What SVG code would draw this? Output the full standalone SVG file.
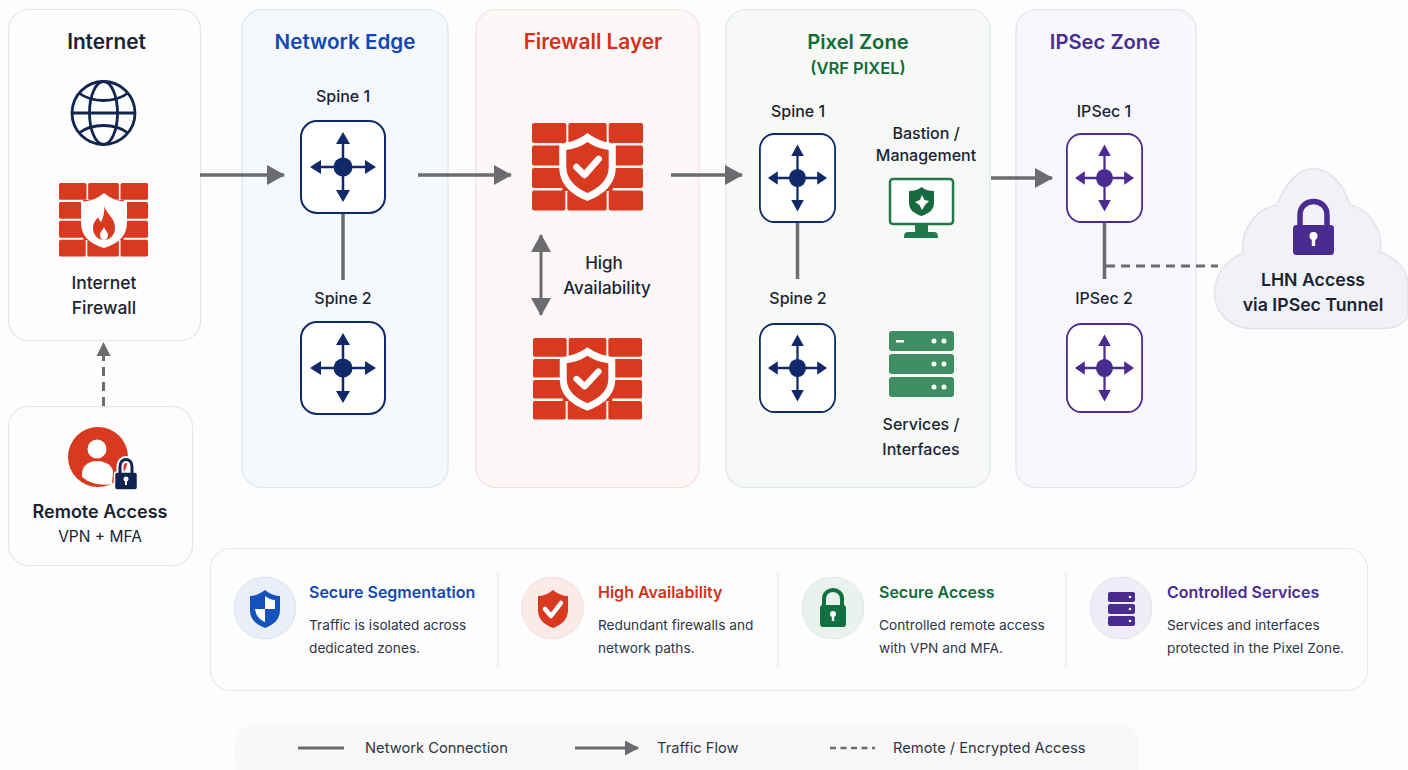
<svg xmlns="http://www.w3.org/2000/svg" width="1408" height="770" viewBox="0 0 1408 770">
<style>
text{font-family:"Inter","Noto Sans","Liberation Sans",sans-serif;fill:#1b2433;text-anchor:middle}
.panel{stroke-width:1.2}
.title{font-size:20.6px;font-weight:600}
.lab{font-size:16px;font-weight:500}
.big{font-size:17.7px;font-weight:600}
.bt{font-size:16px;font-weight:600;text-anchor:start}
.bd{font-size:13.7px;font-weight:400;text-anchor:start;fill:#2d3644}
.lg{font-size:14.7px;font-weight:400;text-anchor:start;fill:#2d3644}
.conn{fill:none;stroke:#6a6c70;stroke-width:3.5}
.dash{stroke-dasharray:9 6;stroke-width:3}
</style>
<defs>
<marker id="ah" markerUnits="userSpaceOnUse" markerWidth="18" markerHeight="20" refX="17" refY="10" orient="auto-start-reverse"><path d="M0 0L18 10L0 20Z" fill="#6a6c70"/></marker>
<marker id="ahs" markerUnits="userSpaceOnUse" markerWidth="14" markerHeight="15" refX="13" refY="7.500" orient="auto"><path d="M0 0L14 7.500L0 15Z" fill="#6a6c70"/></marker>
<symbol id="router" viewBox="0 0 86 94" preserveAspectRatio="none">
<rect x="1" y="1" width="84" height="92" rx="16" fill="#fff" stroke="currentColor" stroke-width="2"/>
<path d="M43 18V76M14 47H72" stroke="currentColor" stroke-width="2.500" fill="none"/>
<path d="M43 12L50 24H36ZM43 82L50 70H36ZM10 47L21 40V54ZM76 47L65 40V54Z" fill="currentColor"/>
<circle cx="43" cy="47" r="9.500" fill="currentColor"/>
</symbol>
<symbol id="bricks" viewBox="0 0 110 88" preserveAspectRatio="none">
<g fill="#d8391f">
<rect x="0" y="0" width="34" height="20" rx="2"/><rect x="36" y="0" width="38" height="20" rx="2"/><rect x="76" y="0" width="34" height="20" rx="2"/>
<rect x="0" y="22.500" width="34" height="20" rx="2"/><rect x="76" y="22.500" width="34" height="20" rx="2"/>
<rect x="0" y="45" width="34" height="20" rx="2"/><rect x="76" y="45" width="34" height="20" rx="2"/>
<rect x="0" y="67.500" width="33" height="20" rx="2"/><rect x="35" y="67.500" width="39" height="20" rx="2"/><rect x="76" y="67.500" width="34" height="20" rx="2"/>
<rect x="30" y="20" width="50" height="48"/>
</g>
</symbol>
<symbol id="fwcheck" viewBox="0 0 110 88" preserveAspectRatio="none">
<use href="#bricks" width="110" height="88"/>
<path d="M55 10C64 17 74 20 83 21V44C83 62 70 72 55 78C40 72 27 62 27 44V21C36 20 46 17 55 10Z" fill="#fff"/>
<path d="M55 19C62 24 69 26 76 27V44C76 57 66 65 55 70C44 65 34 57 34 44V27C41 26 48 24 55 19Z" fill="#d8391f"/>
<path d="M44 44L52 52L66 36" fill="none" stroke="#fff" stroke-width="6.500" stroke-linecap="round" stroke-linejoin="round"/>
</symbol>
</defs>
<rect width="1408" height="770" fill="#fdfdfe"/>

<g id="internet">
<rect class="panel" x="8.500" y="9.500" width="192" height="331" rx="20" fill="#fdfdfe" stroke="#e3e5e9"/>
<text class="title" x="106.500" y="49" style="font-size:20.800px">Internet</text>
<g fill="none" stroke="#10244f" stroke-width="2.800">
<circle cx="103.500" cy="113" r="31.500"/>
<ellipse cx="103.500" cy="113" rx="14" ry="31.500"/>
<path d="M72 113H135M79 93C92 103 115 103 128 93M79 133C92 123 115 123 128 133"/>
</g>
<use href="#bricks" x="59" y="183" width="89" height="74"/>
<path d="M104 193C111 199 118 201 127 202V222C127 238 116 244 104 248C92 244 81 238 81 222V202C90 201 97 199 104 193Z" fill="#fff"/>
<path d="M104 206C106 213 115 218 115 228C115 235 110 240 104 240C98 240 93 235 93 228C93 223 96 220 98 217C99 220 100 221 101 222C103 218 105 212 104 206Z" fill="#d8391f"/>
<path d="M104 227C105 230 108 232 108 235C108 238 106 240 104 240C102 240 100 238 100 235C100 232 103 230 104 227Z" fill="#fff"/>
<text x="104" y="289" style="font-size:17.500px;font-weight:500">Internet</text>
<text x="104" y="314" style="font-size:17.500px;font-weight:500">Firewall</text>
</g>

<g id="remote-access">
<rect class="panel" x="8.500" y="406.500" width="184" height="159" rx="20" fill="#fdfdfe" stroke="#e3e5e9"/>
<circle cx="98" cy="457" r="30" fill="#d8391f"/>
<circle cx="97" cy="449" r="9.500" fill="#fff"/>
<path d="M82 477C81 466 88 461 97 461C106 461 113 466 113 472L112 484C102 486 90 484 82 477Z" fill="#fff"/>
<path d="M120 474V467C120 457 132 457 132 467V474" fill="none" stroke="#fff" stroke-width="7"/>
<rect x="114.500" y="472" width="23" height="18" rx="2.500" fill="#0f2350" stroke="#fff" stroke-width="1.500"/>
<path d="M120 474V467C120 457 132 457 132 467V474" fill="none" stroke="#0f2350" stroke-width="3"/>
<circle cx="126" cy="479" r="2.500" fill="#fff"/><rect x="125" y="479" width="2" height="6" fill="#fff"/>
<text class="big" x="100" y="518" style="font-size:18px">Remote Access</text>
<text x="100" y="542" style="font-size:15.500px;font-weight:400">VPN + MFA</text>
</g>

<g id="network-edge">
<rect class="panel" x="242" y="9.500" width="206" height="478" rx="20" fill="#f5f8fd" stroke="#dde5f1"/>
<text class="title" x="345" y="49" style="fill:#1248b4">Network Edge</text>
<text class="lab" x="343" y="102">Spine 1</text>
<use href="#router" x="300" y="120" width="86" height="94" style="color:#10296b"/>
<text class="lab" x="343" y="304">Spine 2</text>
<use href="#router" x="300" y="321" width="86" height="94" style="color:#10296b"/>
</g>

<g id="firewall-layer">
<rect class="panel" x="476" y="9.500" width="223" height="478" rx="20" fill="#fdf8f7" stroke="#f5dfdc"/>
<text class="title" x="593" y="49" style="fill:#d5301a;font-size:20.800px">Firewall Layer</text>
<use href="#fwcheck" x="532" y="123" width="111" height="88"/>
<text x="604" y="269" style="font-size:17px;font-weight:500">High</text>
<text x="607" y="294" style="font-size:17px;font-weight:500">Availability</text>
<use href="#fwcheck" x="533" y="338" width="109" height="82"/>
</g>

<g id="pixel-zone">
<rect class="panel" x="726" y="9.500" width="264" height="478" rx="20" fill="#f6f9f6" stroke="#dfe9e1"/>
<text class="title" x="858" y="49" style="fill:#0f6b38;font-size:20.200px">Pixel Zone</text>
<text x="858" y="74" style="fill:#0f6b38;font-size:16.500px;font-weight:600">(VRF PIXEL)</text>
<text class="lab" x="798" y="117">Spine 1</text>
<use href="#router" x="759" y="133" width="77" height="90" style="color:#10296b"/>
<text class="lab" x="798" y="304">Spine 2</text>
<use href="#router" x="759" y="323" width="77" height="90" style="color:#10296b"/>
</g>
<g id="bastion">
<text class="lab" x="926" y="139">Bastion /</text>
<text class="lab" x="926" y="161">Management</text>
<rect x="890" y="179" width="63" height="45" rx="3" fill="#fff" stroke="#20794a" stroke-width="2.500"/>
<path d="M915 224H928V232H934C937 232 938 234 938 238H904C904 234 905 232 908 232H915Z" fill="#20794a"/>
<path d="M921.500 187C925 190 930 191 934 191V203C934 210 928 214 921.500 216C915 214 909 210 909 203V191C913 191 918 190 921.500 187Z" fill="#17693f"/>
<path d="M922 195L924.500 200L929 201L925 205L922 210L919.500 205L915 202L920 200Z" fill="#fff"/>
</g>
<g id="services">
<g fill="#3f8d62">
<rect x="889" y="331" width="65" height="20" rx="3"/><rect x="889" y="354" width="65" height="20" rx="3"/><rect x="889" y="377" width="65" height="20" rx="3"/>
</g>
<g fill="#fff">
<rect x="896" y="340" width="8" height="2.500"/>
<circle cx="934" cy="341" r="2.500"/><circle cx="944" cy="341" r="2.500"/><circle cx="934" cy="364" r="2.500"/><circle cx="944" cy="364" r="2.500"/><circle cx="934" cy="387" r="2.500"/><circle cx="944" cy="387" r="2.500"/>
</g>
<text class="lab" x="921" y="430">Services /</text>
<text class="lab" x="921" y="455">Interfaces</text>
</g>

<g id="ipsec-zone">
<rect class="panel" x="1016" y="9.500" width="180" height="478" rx="20" fill="#f8f8fc" stroke="#e3e2ee"/>
<text class="title" x="1105" y="49" style="fill:#4a2c91;font-size:20.200px">IPSec Zone</text>
<text class="lab" x="1104" y="117">IPSec 1</text>
<use href="#router" x="1066" y="133" width="77" height="90" style="color:#4a2c91"/>
<text class="lab" x="1104" y="304">IPSec 2</text>
<use href="#router" x="1066" y="323" width="77" height="90" style="color:#4a2c91"/>
</g>

<g id="lhn-access">
<path d="M1252 328.500C1230 328.500 1214.500 312 1214.500 293C1214.500 275 1226 260 1243 253C1240 232 1255 208 1277 205C1285 184 1298 168.500 1313 168.500C1330 168.500 1343 184 1350 205C1368 208 1384 230 1380 252C1396 258 1408 270 1408 285V316C1404 324 1394 328.500 1384 328.500Z" fill="#f0f2f7" stroke="#e0e4ea" stroke-width="1.500"/>
<path d="M1300 228V215C1300 197 1327 197 1327 215V228" fill="none" stroke="#4a2c91" stroke-width="5.500"/>
<rect x="1293" y="225" width="41" height="30" rx="3.500" fill="#4a2c91"/>
<circle cx="1313.500" cy="236" r="4" fill="#fff"/><rect x="1311.800" y="237" width="3.400" height="9" fill="#fff"/>
<text class="big" x="1313" y="286">LHN Access</text>
<text class="big" x="1313" y="311">via IPSec Tunnel</text>
</g>

<g id="connectors">
<path class="conn" d="M200 175H284" marker-end="url(#ah)"/>
<path class="conn" d="M418 175H511" marker-end="url(#ah)"/>
<path class="conn" d="M671 175H742" marker-end="url(#ah)"/>
<path class="conn" d="M991 178H1052" marker-end="url(#ah)"/>
<path class="conn" d="M343 214V280"/>
<path class="conn" d="M797.500 223V279"/>
<path class="conn" d="M1104.500 223V279"/>
<path class="conn dash" d="M103.500 406V350"/>
<path d="M103.500 342L110.500 356H96.500Z" fill="#6a6c70"/>
<path class="conn dash" d="M1106 266H1218"/>
<path class="conn" d="M541 235V315" marker-start="url(#ah)" marker-end="url(#ah)" style="stroke-width:3"/>
</g>

<g id="benefits">
<rect class="panel" x="210.500" y="548.500" width="1157" height="142" rx="20" fill="#fdfdfe" stroke="#e6e8ec"/>
<path d="M498 572V668M778 572V668M1066 572V668" stroke="#eceef1" stroke-width="1.500" fill="none"/>
</g>
<g id="benefit-segmentation">
<circle cx="265" cy="608" r="31" fill="#e9eef8" stroke="#dde5f2"/>
<path d="M265 590C270 594 275 596 280 596V610C280 620 273 625 265 628C257 625 250 620 250 610V596C255 596 260 594 265 590Z" fill="#1452bc"/>
<path d="M265 596V609H275V600C271 600 268 598 265 596ZM265 609H255C256 616 260 620 265 622Z" fill="#fff"/>
<text class="bt" x="309" y="598" style="fill:#1248b4">Secure Segmentation</text>
<text class="bd" x="309" y="630">Traffic is isolated across</text>
<text class="bd" x="309" y="653">dedicated zones.</text>
</g>
<g id="benefit-availability">
<circle cx="552.500" cy="608" r="31" fill="#faebe8" stroke="#f6e2de"/>
<path d="M553 590C558 594 563 596 568 596V610C568 620 561 625 553 628C545 625 538 620 538 610V596C543 596 548 594 553 590Z" fill="#d8391f"/>
<path d="M545 609L551 616L561 603" fill="none" stroke="#fff" stroke-width="4.500" stroke-linecap="round" stroke-linejoin="round"/>
<text class="bt" x="598" y="598" style="fill:#d5301a">High Availability</text>
<text class="bd" x="598" y="630">Redundant firewalls and</text>
<text class="bd" x="598" y="653">network paths.</text>
</g>
<g id="benefit-access">
<circle cx="833" cy="608" r="31" fill="#e9f2ec" stroke="#e0ebe4"/>
<path d="M824 607V599C824 587 842 587 842 599V607" fill="none" stroke="#117040" stroke-width="4"/>
<rect x="820" y="605" width="26" height="22" rx="3" fill="#117040"/>
<circle cx="833" cy="614" r="3" fill="#fff"/><rect x="831.800" y="614" width="2.400" height="7" fill="#fff"/>
<text class="bt" x="879" y="598" style="fill:#0f6b38">Secure Access</text>
<text class="bd" x="879" y="630">Controlled remote access</text>
<text class="bd" x="879" y="653">with VPN and MFA.</text>
</g>
<g id="benefit-services">
<circle cx="1121" cy="608" r="31" fill="#efedf7" stroke="#e6e3f1"/>
<g fill="#4a2c91"><rect x="1108" y="592" width="27" height="10" rx="2"/><rect x="1108" y="604" width="27" height="10" rx="2"/><rect x="1108" y="616" width="27" height="10" rx="2"/></g>
<g fill="#fff"><circle cx="1130" cy="597" r="1.300"/><circle cx="1130" cy="609" r="1.300"/><circle cx="1130" cy="621" r="1.300"/></g>
<text class="bt" x="1167" y="598" style="fill:#4a2c91">Controlled Services</text>
<text class="bd" x="1167" y="630">Services and interfaces</text>
<text class="bd" x="1167" y="653">protected in the Pixel Zone.</text>
</g>

<g id="legend">
<rect x="235" y="724" width="904" height="60" rx="20" fill="#f8f8f9"/>
<path class="conn" d="M298 748H344" style="stroke-width:3"/>
<text class="lg" x="365" y="753">Network Connection</text>
<path class="conn" d="M575 748H638" style="stroke-width:3" marker-end="url(#ahs)"/>
<text class="lg" x="657" y="753">Traffic Flow</text>
<path class="conn" d="M830 748H875" style="stroke-width:2.500;stroke-dasharray:6 4.500"/>
<text class="lg" x="893" y="753">Remote / Encrypted Access</text>
</g>
</svg>
